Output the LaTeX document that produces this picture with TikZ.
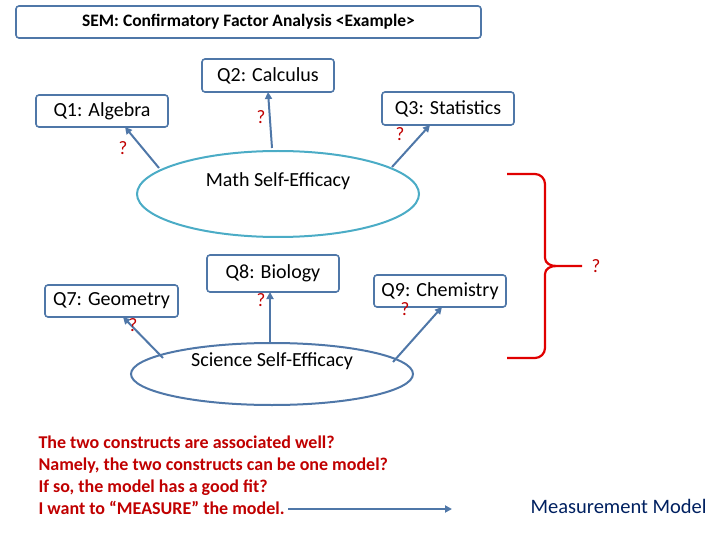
\documentclass[tikz,border=0pt]{standalone}
\usepackage{fontspec}
\setmainfont{Carlito}
\usetikzlibrary{arrows.meta}
\definecolor{bl}{HTML}{4F77A8}
\definecolor{tl}{HTML}{4BACC6}
\definecolor{rd}{HTML}{C00000}
\definecolor{br}{HTML}{E00000}
\definecolor{nv}{HTML}{002060}
\begin{document}
\begin{tikzpicture}[x=1pt,y=-1pt,
 box/.style={draw=bl,line width=1.6pt,rounded corners=3pt,font=\fontsize{20}{22}\selectfont},
 ld/.style={draw=bl,line width=2pt,-{Triangle[length=7pt,width=7pt]}},
 qm/.style={text=rd,font=\fontsize{19}{21}\selectfont}]
\useasboundingbox (0,0) rectangle (720,540);
\node[box,minimum width=465pt,minimum height=32pt] (title) at (248.5,22) {\fontsize{17.5}{19}\selectfont\bfseries SEM: Confirmatory Factor Analysis <Example>};
\node[box,minimum width=132pt,minimum height=33pt] (q2) at (268,75.5) {Q2: Calculus};
\node[box,minimum width=132pt,minimum height=32pt] (q1) at (102,111) {Q1: Algebra};
\node[box,minimum width=132pt,minimum height=33pt] (q3) at (448,108.5) {Q3: Statistics};
\node[box,minimum width=132pt,minimum height=37pt] (q8) at (273,273.5) {Q8: Biology};
\node[box,minimum width=133pt,minimum height=32pt] (q7) at (111.5,301) {Q7: Geometry};
\node[box,minimum width=132pt,minimum height=32pt] (q9) at (440,291) {Q9: Chemistry};
\draw[tl,line width=2pt] (278,194) ellipse [x radius=141,y radius=43];
\node[font=\fontsize{20}{22}\selectfont] (m) at (278,181) {Math Self-Efficacy};
\draw[bl,line width=2pt] (272,374) ellipse [x radius=141,y radius=31];
\node[font=\fontsize{20}{22}\selectfont] (s) at (272,361) {Science Self-Efficacy};
\coordinate (a1) at (159,168); \coordinate (a2) at (272,148); \coordinate (a3) at (392,167);
\coordinate (a7) at (163,358); \coordinate (a8) at (270,343); \coordinate (a9) at (393,362);
\draw[ld] (a1) -- (125,127);
\draw[ld] (a2) -- (268,92);
\draw[ld] (a3) -- (430,125);
\draw[ld] (a7) -- (123,317);
\draw[ld] (a8) -- (270,292);
\draw[ld] (a9) -- (442,307);
\node[qm] (k1) at (123,148) {?};
\node[qm] (k2) at (261,117) {?};
\node[qm] (k3) at (400,134) {?};
\node[qm] (k7) at (133,325) {?};
\node[qm] (k8) at (261,300) {?};
\node[qm] (k9) at (405,309) {?};
\draw[br,line width=2.2pt] (507,174) -- (535,174) to[out=0,in=90] (545,184) -- (545,258)
  to[out=-90,in=180] (556,266) -- (582,266);
\draw[br,line width=2.2pt] (556,266) to[out=180,in=90] (545,274) -- (545,348) to[out=-90,in=0] (535,358) -- (507,358);
\node[qm] (k10) at (596,266) {?};
\node[text=rd,font=\fontsize{18}{22}\selectfont\bfseries,align=left,anchor=north west] (txt) at (35,432)
 {The two constructs are associated well?\\Namely, the two constructs can be one model?\\If so, the model has a good fit?\\I want to “MEASURE” the model.};
\coordinate (ar) at (288,509);
\node[text=nv,font=\fontsize{20.5}{22}\selectfont,anchor=west] (mm) at (527,506) {Measurement Model};
\draw[bl,line width=2pt,-{Triangle[length=7pt,width=7pt]}] (ar) -- (452,509);
\end{tikzpicture}
\end{document}
